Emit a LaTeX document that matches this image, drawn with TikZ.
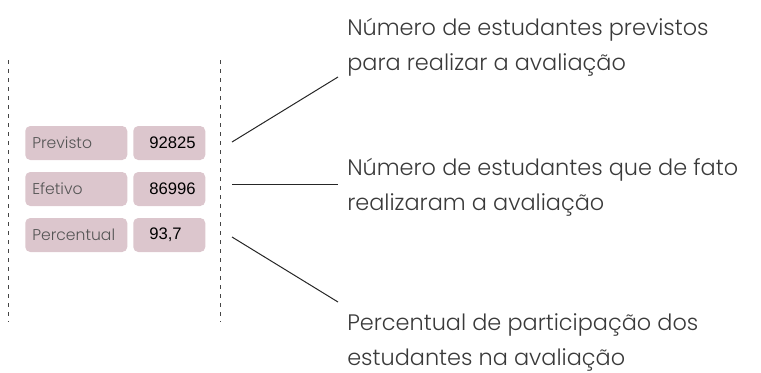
\documentclass[tikz,border=0pt]{standalone}
\usepackage{fontspec}
\setmainfont{Poppins}[UprightFont=* Light]
\newfontfamily\numfont{Liberation Sans}
\definecolor{boxfill}{HTML}{DCC6CD}
\definecolor{txt}{HTML}{3A3A3A}
\definecolor{lbl}{HTML}{555555}
\definecolor{dash}{HTML}{454545}
\begin{document}
\begin{tikzpicture}[x=0.75pt,y=-0.75pt,
  lblbox/.style={fill=boxfill,rounded corners=3.75pt,minimum height=25.5pt,
     text width=66pt,inner xsep=5.25pt,inner ysep=0pt,align=left,
     font=\fontsize{11.7pt}{13pt}\selectfont,text=lbl,anchor=west},
  valbox/.style={fill=boxfill,rounded corners=3.75pt,minimum height=25.5pt,
     text width=30pt,inner xsep=12pt,inner ysep=0pt,align=left,
     font=\numfont\fontsize{12.5pt}{14pt}\selectfont,text=black,anchor=west},
  desc/.style={anchor=north west,align=left,inner sep=0pt,text=txt,
     font=\fontsize{16.8pt}{26.5pt}\selectfont},
  guide/.style={draw=dash,line width=0.75pt,dash pattern=on 3pt off 3.75pt},
  conn/.style={draw=black!85,line width=0.75pt}]
\useasboundingbox (0,0) rectangle (761,372);
\coordinate (g1t) at (8,60); \coordinate (g1b) at (8,322);
\coordinate (g2t) at (220,60); \coordinate (g2b) at (220,322);
\draw[guide] (g1t) -- (g1b);
\draw[guide] (g2t) -- (g2b);
\node[lblbox] (l1) at (25,143) {Previsto};
\node[valbox] (v1) at (133,143) {92825};
\node[lblbox] (l2) at (25,189) {Efetivo};
\node[valbox] (v2) at (133,189) {86996};
\node[lblbox] (l3) at (25,235) {Percentual};
\node[valbox] (v3) at (133,235) {93,7};
\node[desc] (d1) at (347,18) {Número de estudantes previstos\\para realizar a avaliação};
\node[desc] (d2) at (347,158) {Número de estudantes que de fato\\realizaram a avaliação};
\node[desc] (d3) at (347,313) {Percentual de participação dos\\estudantes na avaliação};
\coordinate (s1) at (232,142); \coordinate (e1) at (338,77);
\coordinate (s2) at (232,184); \coordinate (e2) at (338,184);
\coordinate (s3) at (232,237); \coordinate (e3) at (338,302);
\draw[conn] (s1) -- (e1);
\draw[conn] (s2) -- (e2);
\draw[conn] (s3) -- (e3);
\end{tikzpicture}
\end{document}
